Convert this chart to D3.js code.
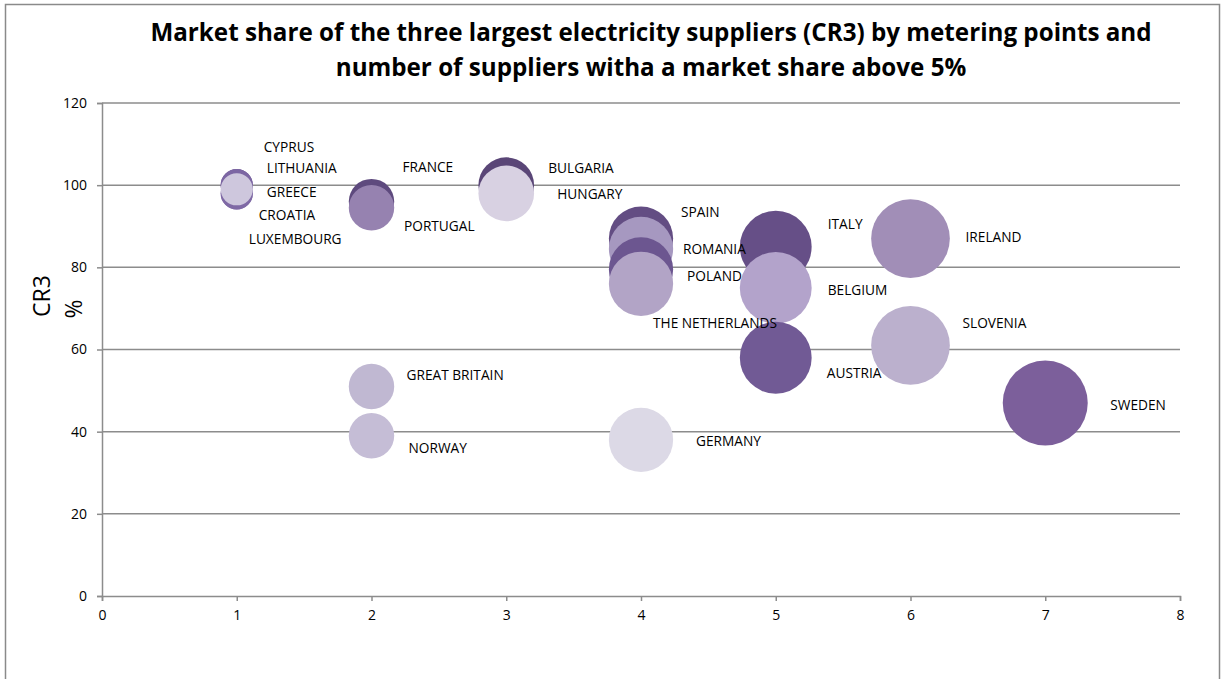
<!DOCTYPE html>
<html>
<head>
<meta charset="utf-8">
<script src="https://cdn.jsdelivr.net/npm/d3@7"></script>
<style>
  body { margin: 0; background: #fff; }
  svg text { font-family: "Open Sans", sans-serif; fill: #000; }
</style>
</head>
<body>
<div id="chart"></div>
<script>
// chart data (drawing order = series order)
const countries = [
  "CYPRUS", "LITHUANIA", "GREECE", "CROATIA", "LUXEMBOURG",
  "FRANCE", "PORTUGAL", "BULGARIA", "HUNGARY",
  "SPAIN", "ROMANIA", "POLAND", "THE NETHERLANDS",
  "ITALY", "BELGIUM", "AUSTRIA", "IRELAND", "SLOVENIA", "SWEDEN",
  "GREAT BRITAIN", "NORWAY", "GERMANY"
];
// number of suppliers with a market share above 5%
const suppliers = [1, 1, 1, 1, 1, 2, 2, 3, 3, 4, 4, 4, 4, 5, 5, 5, 6, 6, 7, 2, 2, 4];
// CR3 market share (%)
const cr3 = [100, 100, 98, 98, 99, 96, 94.5, 100, 98, 87, 84.5, 79.5, 76, 85, 75, 58, 87, 61, 47, 51, 39, 38];
// bubble size value
const bubbleSize = [1, 1, 1, 1, 1, 2, 2, 3, 3, 4, 4, 4, 4, 5, 5, 5, 6, 6, 7, 2, 2, 4];

const xTicks = [0, 1, 2, 3, 4, 5, 6, 7, 8];
const yTicks = [0, 20, 40, 60, 80, 100, 120];

const titleLines = [
  "Market share of the three largest electricity suppliers (CR3) by metering points and",
  "number of suppliers witha a market share above 5%"
];

// point colours (vary by point)
const palette = [
  "#6e5893", "#7c66a3", "#8571aa", "#7f69a5", "#cec7dd",
  "#5e4a7e", "#9682b0", "#5a4677", "#d8d1e2",
  "#634d83", "#a698c0", "#6c5690", "#b2a4c6",
  "#664f87", "#b3a3cb", "#715a95", "#a18eb7", "#bbb0cd", "#7c5f9b",
  "#c0b8d2", "#c5bdd6", "#dcd9e6"
];

// label offsets from bubble centre (px): [dx to left edge, dy]
const labelOffsets = [
  [27, -39], [30, -17.5], [30, -1.5], [22, 21.5], [12, 49.5],
  [31, -35], [32.5, 18], [42, -17.5], [51, 0.5],
  [40, -27.5], [42, 0], [46, 6.5], [12, 39],
  [52, -23.5], [52, 2], [51, 15], [55, -2.5], [52, -23], [65, 1.5],
  [35, -11.5], [37, 12], [55, 1]
];

const W = 1222, H = 679;
const PLOT = { left: 102, right: 1180, top: 103, bottom: 596 };

const svg = d3.select("#chart").append("svg")
  .attr("width", W).attr("height", H);

svg.append("rect").attr("width", W).attr("height", H).attr("fill", "#fff");

// chart border
svg.append("rect")
  .attr("x", 5.5).attr("y", 4.5)
  .attr("width", 1214).attr("height", 700)
  .attr("fill", "none").attr("stroke", "#8a8a8a").attr("stroke-width", 1.5);

const x = d3.scaleLinear().domain([0, 8]).range([PLOT.left, PLOT.right]);
const y = d3.scaleLinear().domain([0, 120]).range([PLOT.bottom, PLOT.top]);
const r = d3.scaleSqrt().domain([0, 7]).range([0, 42.5]);

// gridlines
svg.append("g")
  .selectAll("line")
  .data(yTicks.filter((d) => d > 0))
  .join("line")
  .attr("x1", PLOT.left).attr("x2", PLOT.right)
  .attr("y1", (d) => y(d)).attr("y2", (d) => y(d))
  .attr("stroke", "#8c8c8c").attr("stroke-width", 1.5);

// y axis
const yAxis = svg.append("g")
  .attr("transform", `translate(${PLOT.left},0)`)
  .call(d3.axisLeft(y).tickValues(yTicks).tickSize(5).tickPadding(10));

// x axis
const xAxis = svg.append("g")
  .attr("transform", `translate(0,${PLOT.bottom})`)
  .call(d3.axisBottom(x).tickValues(xTicks).tickSize(5).tickPadding(9));

[yAxis, xAxis].forEach((ax) => {
  ax.select(".domain").attr("stroke", "#8c8c8c").attr("stroke-width", 1.5);
  ax.selectAll(".tick line").attr("stroke", "#8c8c8c").attr("stroke-width", 1.5);
  ax.selectAll(".tick text")
    .attr("fill", "#000")
    .style("font-family", "'Open Sans', sans-serif")
    .style("font-size", "14px");
});

// bubbles
const rows = countries.map((name, i) => ({
  name, sx: suppliers[i], cr3: cr3[i], size: bubbleSize[i], i
}));

svg.append("g")
  .selectAll("circle")
  .data(rows)
  .join("circle")
  .attr("cx", (d) => x(d.sx))
  .attr("cy", (d) => y(d.cr3))
  .attr("r", (d) => r(d.size))
  .attr("fill", (d) => palette[d.i]);

// data labels
svg.append("g")
  .selectAll("text")
  .data(rows)
  .join("text")
  .attr("x", (d) => x(d.sx) + labelOffsets[d.i][0])
  .attr("y", (d) => y(d.cr3) + labelOffsets[d.i][1])
  .attr("dominant-baseline", "central")
  .style("font-size", "13.7px")
  .text((d) => d.name);

// title
svg.append("g")
  .selectAll("text")
  .data(titleLines)
  .join("text")
  .attr("x", 651)
  .attr("y", (d, i) => 41 + i * 35)
  .attr("text-anchor", "middle")
  .style("font-size", "24.2px")
  .style("font-weight", "700")
  .text((d) => d);

// y axis title
svg.append("text")
  .attr("transform", "translate(50,296) rotate(-90)")
  .attr("text-anchor", "middle")
  .style("font-size", "23px")
  .text("CR3");
svg.append("text")
  .attr("transform", "translate(82,309) rotate(-90)")
  .attr("text-anchor", "middle")
  .style("font-size", "23px")
  .text("%");
</script>
</body>
</html>
